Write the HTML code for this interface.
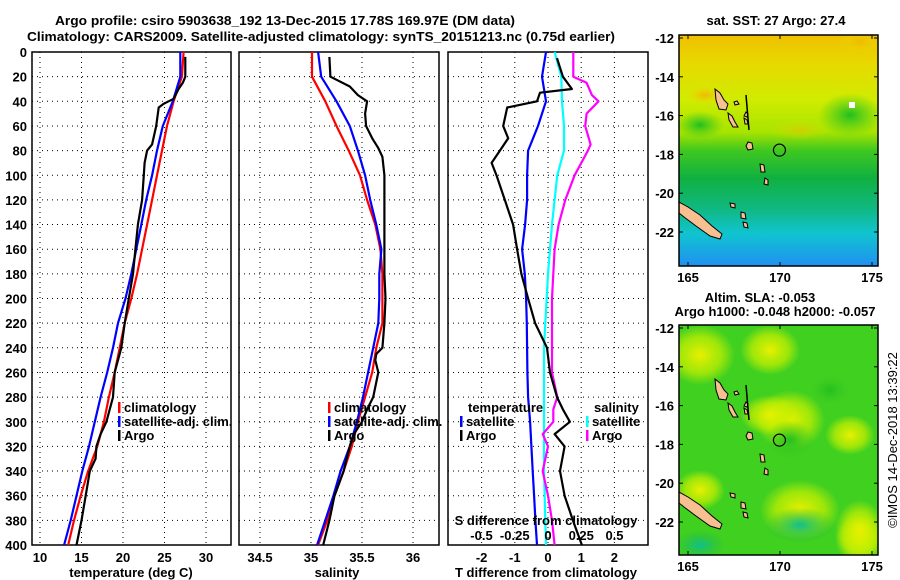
<!DOCTYPE html>
<html><head><meta charset="utf-8"><style>
body{margin:0;background:#fff;}
svg{display:block;font-family:"Liberation Sans",sans-serif;font-weight:bold;}
</style></head><body>
<svg id="fig" width="900" height="580" viewBox="0 0 900 580" xmlns="http://www.w3.org/2000/svg">
<defs>
<linearGradient id="sstGrad" x1="0" y1="0" x2="0" y2="1">
<stop offset="0" stop-color="#f0c000"/><stop offset="0.12" stop-color="#e8d800"/><stop offset="0.28" stop-color="#d0ec00"/>
<stop offset="0.42" stop-color="#a8e400"/><stop offset="0.5" stop-color="#40c820"/><stop offset="0.62" stop-color="#10b040"/>
<stop offset="0.75" stop-color="#10b880"/><stop offset="0.86" stop-color="#10c4d0"/><stop offset="1" stop-color="#2090f0"/>
</linearGradient>
<radialGradient id="blobY"><stop offset="0" stop-color="#e8f000"/><stop offset="0.6" stop-color="#c8f000" stop-opacity="0.7"/><stop offset="1" stop-color="#c8f000" stop-opacity="0"/></radialGradient>
<radialGradient id="blobO"><stop offset="0" stop-color="#f0b800"/><stop offset="1" stop-color="#e8e000" stop-opacity="0"/></radialGradient>
<radialGradient id="blobT"><stop offset="0" stop-color="#10c090"/><stop offset="1" stop-color="#20b840" stop-opacity="0"/></radialGradient>
<radialGradient id="blobG"><stop offset="0" stop-color="#20c020"/><stop offset="1" stop-color="#40c820" stop-opacity="0"/></radialGradient>
<clipPath id="clipTop"><rect x="679" y="35" width="199" height="231"/></clipPath>
<clipPath id="clipBot"><rect x="679" y="325" width="199" height="230"/></clipPath>
</defs>
<g id="root"></g>
</svg>
<script>
// ---- data (depth in m) ----
const tDepth = [0,20,40,60,80,100,120,140,160,180,200,220,240,260,280,300,320,340,360,380,400];
const tClim = [27.3,27.1,26.1,25.3,24.7,24.1,23.5,22.9,22.3,21.7,21.0,20.2,19.6,19.0,18.3,17.7,16.9,15.8,14.9,14.1,13.4];
const tSat  = [26.9,26.9,26.0,24.8,24.1,23.5,22.8,22.2,21.6,21.0,20.3,19.4,18.8,18.1,17.3,16.6,15.9,15.1,14.4,13.7,12.9];
const argoDepth = [4,20,25,30,38,42,45,60,75,80,90,100,120,140,160,180,200,220,240,260,280,300,310,320,330,340,360,380,400];
const tArgo = [27.5,27.5,27.2,26.7,26.1,24.9,24.3,24.0,23.5,22.9,22.6,22.5,22.3,21.8,21.5,21.2,20.7,20.2,19.8,19.0,18.8,18.0,17.3,16.8,16.7,16.0,15.5,15.0,14.4];
const sClim = [35.01,35.01,35.14,35.25,35.37,35.48,35.55,35.63,35.68,35.70,35.70,35.70,35.64,35.60,35.53,35.46,35.40,35.32,35.23,35.16,35.07];
const sSat  = [35.07,35.10,35.25,35.38,35.46,35.53,35.58,35.64,35.69,35.67,35.67,35.66,35.61,35.56,35.51,35.45,35.38,35.29,35.22,35.14,35.06];
const sArgoDepth = [4,20,28,35,40,50,60,70,78,85,100,140,180,200,220,240,245,250,260,280,290,300,310,320,340,360,380,400];
const sArgo = [35.18,35.19,35.38,35.46,35.55,35.53,35.54,35.60,35.66,35.70,35.72,35.72,35.72,35.73,35.72,35.70,35.64,35.63,35.66,35.61,35.55,35.50,35.42,35.38,35.32,35.23,35.18,35.12];
const dDepth = [0,20,40,60,80,100,120,140,160,180,200,220,240,260,280,300,320,340,360,380,400];
const dTSat = [-0.06,-0.18,-0.06,-0.3,-0.6,-0.63,-0.63,-0.69,-0.78,-0.7,-0.66,-0.64,-0.63,-0.62,-0.6,-0.54,-0.5,-0.46,-0.42,-0.38,-0.33];
const dTArgoDepth = [5,20,30,33,40,45,60,70,80,90,100,120,140,160,180,200,220,240,260,280,290,300,310,320,340,360,380,400];
const dTArgo = [0.27,0.45,0.72,-0.24,-0.33,-1.23,-1.35,-1.2,-1.45,-1.7,-1.55,-1.3,-1.05,-0.93,-0.8,-0.6,-0.39,-0.03,0.06,0.27,0.45,0.66,0.2,0.5,0.36,0.5,0.75,1.02];
const dSSat = [0.05,0.1,0.105,0.12,0.12,0.07,0.05,0.03,0.015,0,-0.01,-0.02,-0.03,-0.03,-0.03,-0.03,-0.03,-0.03,-0.025,-0.02,-0.015];
const dSArgoDepth = [0,20,25,35,40,50,60,75,80,100,120,140,160,180,200,260,280,290,300,310,320,340,360,380,400];
const dSArgo = [0.19,0.19,0.29,0.33,0.38,0.29,0.28,0.32,0.30,0.2,0.13,0.08,0.05,0.04,0.03,0.03,0.07,0.04,0.04,-0.04,0,-0.04,0,0.03,0.05];
const depthTicks = [0,20,40,60,80,100,120,140,160,180,200,220,240,260,280,300,320,340,360,380,400];
const tTicks = [10,15,20,25,30];
const sTicks = [34.5,35,35.5,36];
const dTTicks = [-2,-1,0,1,2];
const dSTicks = [-0.5,-0.25,0,0.25,0.5];
const latTicks = [-12,-14,-16,-18,-20,-22];
const lonTicks = [165,170,175];

// ---- axes ----
const Y0=52, Y1=545;
const yD = d => Y0 + d*(Y1-Y0)/400;
const P1={x0:32,x1:231}, P2={x0:239,x1:439}, P3={x0:448,x1:648};
const xT = t => 40 + (t-10)*8.3;
const xS = s => 311 + (s-35)*102;
const xDT = v => 548 + v*33.2;
const xDS = v => 548 + v*133;
const NS='http://www.w3.org/2000/svg';
const root=document.getElementById('root');
function el(tag,attrs,parent){const e=document.createElementNS(NS,tag);for(const k in attrs)e.setAttribute(k,attrs[k]);(parent||root).appendChild(e);return e;}
function txt(x,y,s,size,anchor,parent){const t=el('text',{x:x,y:y,'font-size':size,'text-anchor':anchor||'start',fill:'#000'},parent);t.textContent=s;return t;}
function line(xs,ys,color,w,name){
  const pts=xs.map((x,i)=>x.toFixed(1)+','+yD(ys[i]).toFixed(1)).join(' ');
  const p=el('polyline',{points:pts,fill:'none',stroke:color,'stroke-width':w,'stroke-linejoin':'round'});
  
  
}
function panel(P,xTicks,xf,labels,name){
  const g=el('g',{});
  
  
  depthTicks.forEach(d=>{ if(d>0&&d<400) el('line',{x1:P.x0,x2:P.x1,y1:yD(d),y2:yD(d),stroke:'#000','stroke-width':1,'stroke-dasharray':'1,4'},g); });
  xTicks.forEach(v=>{ el('line',{x1:xf(v),x2:xf(v),y1:Y0,y2:Y1,stroke:'#000','stroke-width':1,'stroke-dasharray':'1,4'},g); });
  el('rect',{x:P.x0,y:Y0,width:P.x1-P.x0,height:Y1-Y0,fill:'none',stroke:'#000','stroke-width':1.5},g);
  if(labels) xTicks.forEach(v=>{ const t=txt(xf(v),562,String(v),13,'middle',g);   });
  return g;
}
// ---- panel 1 ----
panel(P1,tTicks,xT,true,'temperature-panel');
depthTicks.forEach(d=>{ const t=txt(27,yD(d)+5,String(d),13,'end');   });
line(tClim.map(xT),tDepth,'#f00',2.2,'temp-climatology-line');
line(tSat.map(xT),tDepth,'#00f',2.2,'temp-satellite-line');
line(tArgo.map(xT),argoDepth,'#000',2.2,'temp-argo-line');
{const t=txt(131,577,'temperature (deg C)',13,'middle');  }
// ---- panel 2 ----
panel(P2,sTicks,xS,true,'salinity-panel');
line(sClim.map(xS),tDepth,'#f00',2.2,'sal-climatology-line');
line(sSat.map(xS),tDepth,'#00f',2.2,'sal-satellite-line');
line(sArgo.map(xS),sArgoDepth,'#000',2.2,'sal-argo-line');
{const t=txt(337,577,'salinity',13,'middle');  }
function legend(x,y,color,label,name){
  const g=el('g',{});
  
  
  el('rect',{x:x,y:y-10,width:2.5,height:11,fill:color},g);
  txt(x+6,y,label,13,'start',g);
}
legend(118,412,'#f00','climatology','legend-entry-climatology');
legend(118,426,'#00f','satellite-adj. clim.','legend-entry-satellite-adj');
legend(118,440,'#000','Argo','legend-entry-argo');
legend(328,412,'#f00','climatology','legend-entry-climatology-2');
legend(328,426,'#00f','satellite-adj. clim.','legend-entry-satellite-adj-2');
legend(328,440,'#000','Argo','legend-entry-argo-2');
// ---- panel 3 ----
panel(P3,dTTicks,xDT,true,'difference-panel');
line(dTSat.map(xDT),dDepth,'#00f',2.2,'dT-satellite-line');
line(dSSat.map(xDS),dDepth,'#0ff',2.2,'dS-satellite-line');
line(dSArgo.map(xDS),dSArgoDepth,'#f0f',2.2,'dS-argo-line');
line(dTArgo.map(xDT),dTArgoDepth,'#000',2.2,'dT-argo-line');
{const t=txt(468,412,'temperature',13,'start');  }
legend(460,426,'#00f','satellite','legend-entry-t-satellite');
legend(460,440,'#000','Argo','legend-entry-t-argo');
{const t=txt(594,412,'salinity',13,'start');  }
legend(586,426,'#0ff','satellite','legend-entry-s-satellite');
legend(586,440,'#f0f','Argo','legend-entry-s-argo');
{const t=txt(546,525,'S difference from climatology',13,'middle');  }
dSTicks.forEach(v=>{ const t=txt(xDS(v),540,String(v),13,'middle');   });
{const t=txt(546,577,'T difference from climatology',13,'middle');  }
// ---- titles ----
{const t=txt(55,25,'Argo profile: csiro 5903638_192 13-Dec-2015 17.78S 169.97E (DM data)',13,'start'); t.setAttribute('textLength','460'); t.setAttribute('lengthAdjust','spacingAndGlyphs');  }
{const t=txt(27,41,'Climatology: CARS2009. Satellite-adjusted climatology: synTS_20151213.nc (0.75d earlier)',13,'start'); t.setAttribute('textLength','588'); t.setAttribute('lengthAdjust','spacingAndGlyphs');  }

// ---- maps ----
const lonX = lon => 688 + (lon-165)*18.4;
const latY = (lat,top) => top + (-12-lat)*19.4;
function islands(g,dy){
  const polys=[
   [[679,202],[688,207],[700,215],[712,226],[722,234],[720,239],[710,236],[696,226],[684,217],[679,213]],
   [[715,89],[720,93],[724,100],[728,104],[726,110],[719,109],[716,100]],
   [[728,113],[732,116],[735,122],[738,127],[733,127],[729,120]],
   [[746,112],[748,114],[747,117],[744,116]],
   [[734,102],[737,101],[739,104],[735,105]],
   [[748,142],[752,143],[753,149],[748,150],[746,146]],
   [[760,164],[764,165],[765,172],[761,172]],
   [[765,178],[768,180],[768,185],[764,184]],
   [[730,203],[735,204],[735,208],[731,207]],
   [[741,212],[745,213],[746,219],[741,218]],
   [[743,222],[747,223],[748,228],[744,227]],
   [[744,118],[747,120],[748,124],[745,124]]
  ];
  polys.forEach(p=>{ el('polygon',{points:p.map(q=>q[0]+','+(q[1]+dy)).join(' '),fill:'#f8c090',stroke:'#000','stroke-width':1},g); });
  el('line',{x1:746,y1:95+dy,x2:749,y2:130+dy,stroke:'#000','stroke-width':1.5},g);
}
function mapAxes(top,bottom,name,content){
  const g=el('g',{});
  
  
  const inner=el('g',{'clip-path':top<100?'url(#clipTop)':'url(#clipBot)'},g);
  content(inner);
  islands(inner,top<100?0:290);
  el('circle',{cx:lonX(169.97),cy:latY(-17.78,top+3),r:6,fill:'none',stroke:'#000','stroke-width':1.2},g);
  el('rect',{x:679,y:top,width:199,height:bottom-top,fill:'none',stroke:'#000','stroke-width':1.5},g);
  latTicks.forEach(l=>{ const y=latY(l,top+3); el('line',{x1:679,x2:683,y1:y,y2:y,stroke:'#000'},g); el('line',{x1:874,x2:878,y1:y,y2:y,stroke:'#000'},g);
    const t=txt(674,y+5,String(l),13,'end',g);   });
  lonTicks.forEach(l=>{ const x=lonX(l); el('line',{x1:x,x2:x,y1:bottom,y2:bottom-4,stroke:'#000'},g); el('line',{x1:x,x2:x,y1:top,y2:top+4,stroke:'#000'},g);
    const t=txt(x,bottom+16,String(l),13,'middle',g);   });
  return g;
}
mapAxes(35,266,'sst-map',g=>{
  el('rect',{x:679,y:35,width:199,height:231,fill:'url(#sstGrad)'},g);
  el('ellipse',{cx:705,cy:95,rx:20,ry:10,fill:'url(#blobO)'},g);
  el('ellipse',{cx:860,cy:42,rx:22,ry:12,fill:'url(#blobO)'},g);
  el('ellipse',{cx:850,cy:115,rx:32,ry:22,fill:'url(#blobG)'},g);
  el('ellipse',{cx:700,cy:125,rx:24,ry:14,fill:'url(#blobG)'},g);
  el('ellipse',{cx:800,cy:130,rx:30,ry:10,fill:'url(#blobO)',opacity:0.5},g);
  el('rect',{x:849,y:102,width:6,height:6,fill:'#fff'},g);
});
mapAxes(325,555,'sla-map',g=>{
  el('rect',{x:679,y:325,width:199,height:230,fill:'#40d020'},g);
  [[700,355,35,30],[770,350,30,25],[790,420,35,30],[700,490,25,20],[800,510,40,30],[860,540,25,25],[850,435,25,20],[770,415,30,20],[860,530,25,30]].forEach(b=>{
    el('ellipse',{cx:b[0],cy:b[1],rx:b[2],ry:b[3],fill:'url(#blobY)'},g); });
  el('ellipse',{cx:830,cy:390,rx:20,ry:15,fill:'url(#blobG)'},g);
  el('ellipse',{cx:800,cy:525,rx:35,ry:18,fill:'url(#blobT)'},g);
  el('ellipse',{cx:700,cy:545,rx:25,ry:15,fill:'url(#blobT)'},g);
  el('ellipse',{cx:790,cy:440,rx:25,ry:20,fill:'url(#blobG)'},g);
});
{const t=txt(776,25,'sat. SST: 27 Argo: 27.4',13,'middle');  }
{const t=txt(760,302,'Altim. SLA: -0.053',13,'middle');  }
{const t=txt(775,316,'Argo h1000: -0.048 h2000: -0.057',13,'middle');  }
{const t=txt(0,0,'©IMOS 14-Dec-2018 13:39:22',13,'middle'); t.setAttribute('transform','translate(897,440) rotate(-90)'); t.setAttribute('font-weight','normal');  }
</script>
</body></html>
